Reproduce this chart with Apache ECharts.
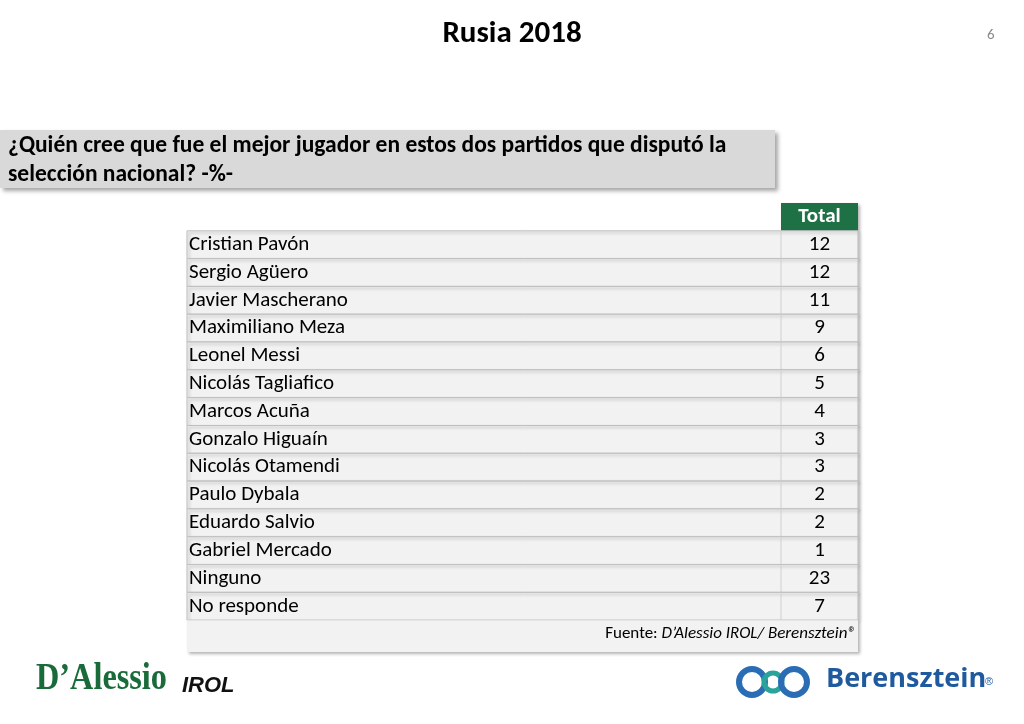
<!DOCTYPE html>
<html><head><meta charset="utf-8">
<script src="https://cdn.jsdelivr.net/npm/echarts@6/dist/echarts.min.js"></script>
<style>body{margin:0}#c{width:1024px;height:724px}</style></head>
<body><div id="c"></div>
<script>
const players = ['Cristian Pavón','Sergio Agüero','Javier Mascherano','Maximiliano Meza','Leonel Messi','Nicolás Tagliafico','Marcos Acuña','Gonzalo Higuaín','Nicolás Otamendi','Paulo Dybala','Eduardo Salvio','Gabriel Mercado','Ninguno','No responde'];
const totals = [12,12,11,9,6,5,4,3,3,2,2,1,23,7];
const header = 'Total';
const sourceLabel = 'Fuente: ';
const sourceText = 'D\u2019Alessio IROL/ Berensztein\u00ae';
const rows = ['header'].concat(players, ['footer']);
const data = rows.map((r,i)=>[i, r]);
const chart = echarts.init(document.getElementById('c'));
const F = 'Carlito, Calibri, "Open Sans", sans-serif';
chart.setOption({
  animation:false,
  backgroundColor:'#fff',
  title:[{text:'Rusia 2018',left:'center',top:14,textStyle:{fontFamily:F,fontSize:31,fontWeight:'bold',color:'#000'}},
         {text:'6',left:982,top:23,textStyle:{fontFamily:F,fontSize:15,color:'#888',fontWeight:'normal'}}],
  grid:{left:187,right:166,top:203,bottom:76},
  xAxis:{type:'value',min:0,max:1,show:false},
  yAxis:{type:'category',data:rows,inverse:true,show:false},
  graphic:[
    {type:'rect',shape:{x:0,y:130,width:775,height:58},style:{fill:'#d9d9d9',shadowBlur:4,shadowOffsetX:3,shadowOffsetY:3,shadowColor:'rgba(0,0,0,0.35)'}},
    {type:'text',left:8,top:132,style:{text:'¿Quién cree que fue el mejor jugador en estos dos partidos que disputó la\nselección nacional? -%-',font:'bold 23.5px '+F,fill:'#000',lineHeight:29}},
    {type:'text',x:36,y:660,scaleX:0.85,style:{text:'D\u2019Alessio',font:'bold 38px "Liberation Serif", serif',fill:'#1a6b3a'}},
    {type:'text',left:182,top:675,style:{text:'IROL',font:'italic bold 22px "Liberation Sans", sans-serif',fill:'#111'}},
    {type:'circle',shape:{cx:752,cy:682,r:13},style:{fill:'none',stroke:'#2a6db5',lineWidth:6}},
    {type:'circle',shape:{cx:773,cy:682,r:9},style:{fill:'none',stroke:'#2aa39a',lineWidth:5}},
    {type:'circle',shape:{cx:794,cy:682,r:13},style:{fill:'none',stroke:'#2a6db5',lineWidth:6}},
    {type:'text',left:826,top:666,style:{text:'Berensztein',font:'bold 27px "Open Sans", sans-serif',fill:'#1f5a9e'}},
    {type:'text',left:985,top:676,style:{text:'®',font:'11px sans-serif',fill:'#1f5a9e'}}
  ],
  series:[{type:'custom',data:data,encode:{y:0},
    renderItem:function(params,api){
      const i = api.value(0);
      const cs = params.coordSys;
      const p = api.coord([0,i]);
      const h = api.size([0,1])[1];
      const y0 = p[1]-h/2;
      const vw = 77;
      const vx = cs.x+cs.width-vw;
      const kids=[];
      if(i===0){
        kids.push({type:'rect',shape:{x:vx,y:y0,width:vw,height:h},style:{fill:'#1e7145',shadowBlur:3,shadowOffsetX:2,shadowOffsetY:2,shadowColor:'rgba(0,0,0,0.3)'}});
        kids.push({type:'text',style:{text:header,x:vx+vw/2,y:y0+h/2,align:'center',verticalAlign:'middle',font:'bold 21px '+F,fill:'#fff'}});
      } else if(i===rows.length-1){
        kids.push({type:'rect',shape:{x:cs.x,y:y0,width:cs.width,height:h+4},style:{fill:'#f2f2f2',shadowBlur:3,shadowOffsetX:2,shadowOffsetY:2,shadowColor:'rgba(0,0,0,0.3)'}});
        kids.push({type:'text',style:{text:'{a|'+sourceLabel+'}{b|'+sourceText+'}',x:cs.x+cs.width-2,y:y0+h/2,align:'right',verticalAlign:'middle',rich:{a:{font:'17px '+F,fill:'#000'},b:{font:'italic 17px '+F,fill:'#000'}}}});
      } else {
        kids.push({type:'rect',shape:{x:cs.x,y:y0,width:cs.width,height:h},style:{fill:'#f2f2f2',stroke:'#bfbfbf',lineWidth:1,shadowBlur:3,shadowOffsetX:2,shadowOffsetY:2,shadowColor:'rgba(0,0,0,0.25)'}});
        kids.push({type:'line',shape:{x1:vx,y1:y0,x2:vx,y2:y0+h},style:{stroke:'#d0d0d0',lineWidth:1}});
        kids.push({type:'text',style:{text:players[i-1],x:cs.x+2,y:y0+h/2,verticalAlign:'middle',font:'21px '+F,fill:'#000'}});
        kids.push({type:'text',style:{text:String(totals[i-1]),x:vx+vw/2,y:y0+h/2,align:'center',verticalAlign:'middle',font:'21px '+F,fill:'#000'}});
      }
      return {type:'group',children:kids};
    }}]
});
</script></body></html>
